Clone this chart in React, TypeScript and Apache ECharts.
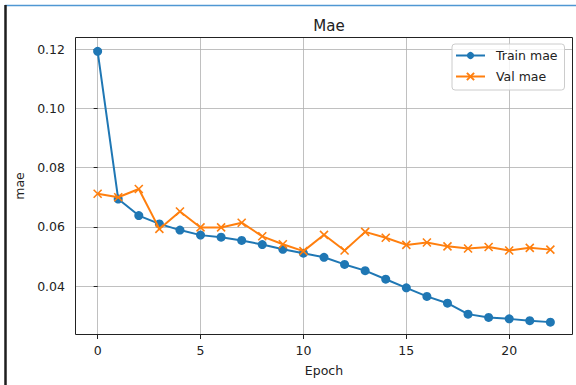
import React, { useEffect, useRef } from "react";
import * as echarts from "echarts";

const epochs = [0, 1, 2, 3, 4, 5, 6, 7, 8, 9, 10, 11, 12, 13, 14, 15, 16, 17, 18, 19, 20, 21, 22];
const trainMae = [0.1193, 0.0694, 0.0638, 0.0610, 0.0589, 0.0572, 0.0565, 0.0554, 0.0540, 0.0524, 0.0511, 0.0497, 0.0473, 0.0452, 0.0423, 0.0394, 0.0365, 0.0342, 0.0305, 0.0294, 0.0289, 0.0283, 0.0278];
const valMae = [0.0712, 0.0700, 0.0728, 0.0593, 0.0652, 0.0598, 0.0598, 0.0614, 0.0568, 0.0541, 0.0518, 0.0573, 0.0520, 0.0583, 0.0563, 0.0539, 0.0547, 0.0534, 0.0527, 0.0532, 0.0520, 0.0529, 0.0523];
const xTicks = [0, 5, 10, 15, 20];
const yTicks = [0.04, 0.06, 0.08, 0.1, 0.12];
const seriesNames = ["Train mae", "Val mae"];

const FONT = "DejaVu Sans";

export default function App() {
  const ref = useRef<HTMLDivElement>(null);
  useEffect(() => {
    if (!ref.current) return;
    const chart = echarts.init(ref.current, null, { renderer: "svg" });
    const gridL = 75, gridT = 37, gridR = 3, gridB = 50;
    chart.setOption({
      animation: false,
      backgroundColor: "#ffffff",
      title: {
        text: "Mae",
        left: 324,
        textAlign: "center",
        top: 13,
        textStyle: { fontFamily: FONT, fontSize: 15, fontWeight: "normal", color: "#222" },
      },
      legend: {
        orient: "vertical",
        left: 452,
        top: 44,
        padding: [4, 7, 6, 3],
        itemWidth: 29,
        itemHeight: 9,
        itemGap: 6,
        backgroundColor: "rgba(255,255,255,0.8)",
        borderColor: "#cccccc",
        borderWidth: 1,
        borderRadius: 3,
        textStyle: { fontFamily: FONT, fontSize: 12.5, lineHeight: 15, color: "#222", padding: [0, 0, 0, 6] },
        data: seriesNames,
      },
      grid: { left: gridL, top: gridT, right: gridR, bottom: gridB, containLabel: false },
      xAxis: {
        type: "value",
        min: -1.1,
        max: 23.1,
        minInterval: 5,
        maxInterval: 5,
        name: "Epoch",
        nameLocation: "middle",
        nameGap: 29,
        nameTextStyle: { fontFamily: FONT, fontSize: 12.5, color: "#222" },
        axisLine: { show: false },
        axisTick: { show: true, length: 4, customValues: xTicks, lineStyle: { color: "#222" } },
        axisLabel: {
          customValues: xTicks,
          margin: 9,
          fontFamily: FONT,
          fontSize: 12.5,
          color: "#222",
        },
        splitLine: { show: true, lineStyle: { color: "#b0b0b0", width: 0.8 } },
      },
      yAxis: {
        type: "value",
        min: 0.02345,
        max: 0.12415,
        minInterval: 0.02,
        maxInterval: 0.02,
        name: "mae",
        nameLocation: "middle",
        nameGap: 45,
        nameTextStyle: { fontFamily: FONT, fontSize: 12.5, color: "#222" },
        axisLine: { show: false },
        axisTick: { show: true, length: 4, customValues: yTicks, lineStyle: { color: "#222" } },
        axisLabel: {
          customValues: yTicks,
          margin: 10,
          fontFamily: FONT,
          fontSize: 12.5,
          color: "#222",
          formatter: (v: number) => v.toFixed(2),
        },
        splitLine: { show: true, lineStyle: { color: "#b0b0b0", width: 0.8 } },
      },
      graphic: [
        {
          type: "rect",
          z: 100,
          silent: true,
          shape: { x: gridL + 0.5, y: gridT + 0.5, width: 576 - gridL - gridR - 1, height: 385 - gridT - gridB - 1 },
          style: { fill: "none", stroke: "#222", lineWidth: 1 },
        },
        {
          type: "line",
          z: 100,
          silent: true,
          shape: { x1: 5, y1: 5.5, x2: 576, y2: 5.5 },
          style: { stroke: "#4f97d3", lineWidth: 1.5 },
        },
        {
          type: "line",
          z: 100,
          silent: true,
          shape: { x1: 5.5, y1: 5, x2: 5.5, y2: 385 },
          style: { stroke: "#1e1e1e", lineWidth: 2.5 },
        },
      ],
      series: [
        {
          name: seriesNames[0],
          type: "line",
          data: epochs.map((e, i) => [e, trainMae[i]]),
          symbol: "circle",
          symbolSize: 9,
          showAllSymbol: true,
          lineStyle: { color: "#1f77b4", width: 2 },
          itemStyle: { color: "#1f77b4" },
          z: 3,
        },
        {
          name: seriesNames[1],
          type: "line",
          data: epochs.map((e, i) => [e, valMae[i]]),
          symbol: "path://M-1,-1L1,1M1,-1L-1,1",
          symbolSize: 8,
          showAllSymbol: true,
          lineStyle: { color: "#ff7f0e", width: 2 },
          itemStyle: { color: "#ff7f0e", borderColor: "#ff7f0e", borderWidth: 1.6 },
          z: 4,
        },
      ],
    });
    return () => chart.dispose();
  }, []);
  return <div ref={ref} style={{ width: 576, height: 385, position: "absolute", left: 0, top: 0 }} />;
}
